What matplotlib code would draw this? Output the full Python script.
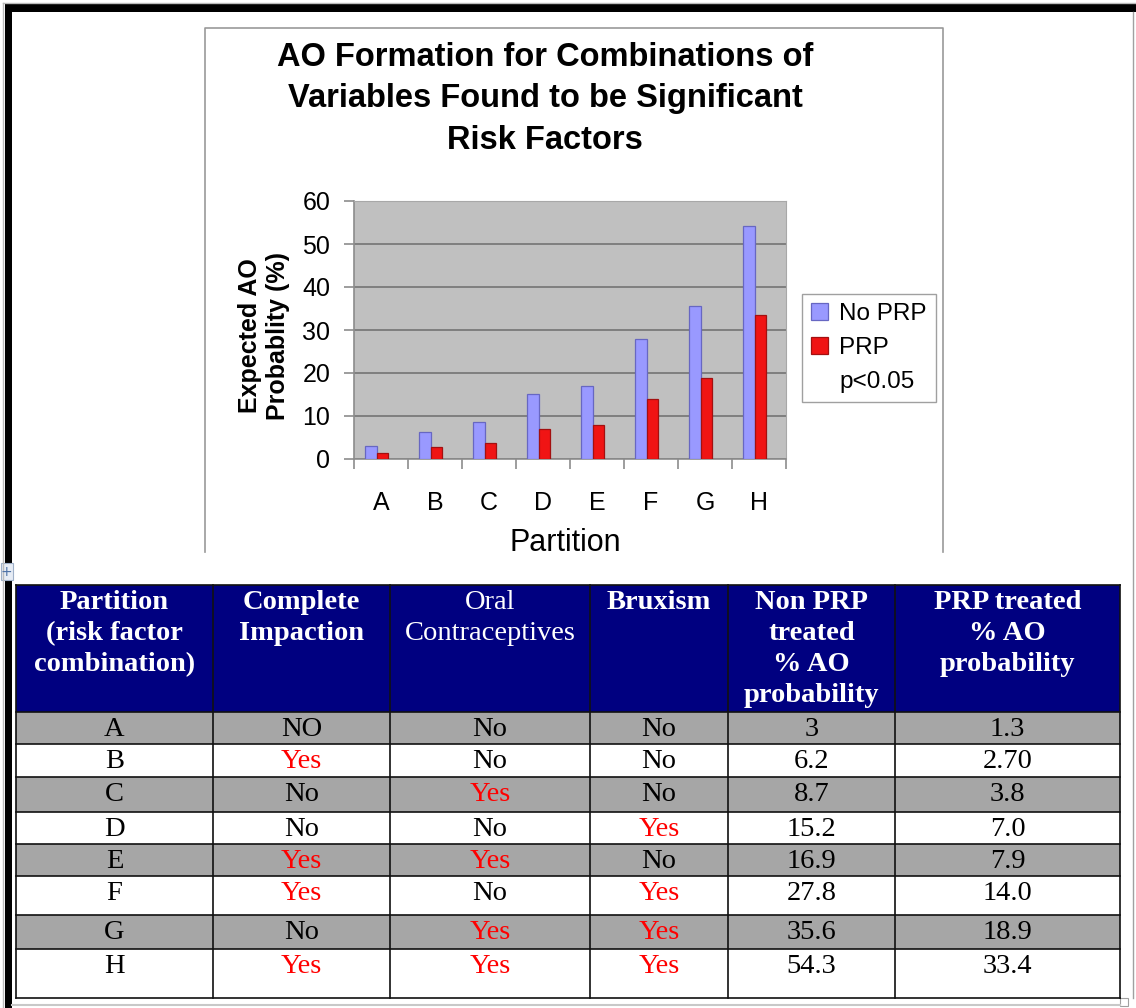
import numpy as np
import matplotlib
matplotlib.use("Agg")
import matplotlib.pyplot as plt
from matplotlib.patches import Rectangle, Patch
from matplotlib.lines import Line2D

# ---- data -------------------------------------------------------------
partitions = ["A", "B", "C", "D", "E", "F", "G", "H"]
complete_impaction = ["NO", "Yes", "No", "No", "Yes", "Yes", "No", "Yes"]
oral_contraceptives = ["No", "No", "Yes", "No", "Yes", "No", "Yes", "Yes"]
bruxism = ["No", "No", "No", "Yes", "No", "Yes", "Yes", "Yes"]
non_prp_labels = ["3", "6.2", "8.7", "15.2", "16.9", "27.8", "35.6", "54.3"]
prp_labels = ["1.3", "2.70", "3.8", "7.0", "7.9", "14.0", "18.9", "33.4"]
no_prp = [float(v) for v in non_prp_labels]
prp = [float(v) for v in prp_labels]

series_names = ["No PRP", "PRP"]
y_ticks = [0, 10, 20, 30, 40, 50, 60]

header_labels = [
    "Partition\n(risk factor\ncombination)",
    "Complete\nImpaction",
    "Oral\nContraceptives",
    "Bruxism",
    "Non PRP\ntreated\n% AO\nprobability",
    "PRP treated\n% AO\nprobability",
]
header_bold = [True, True, False, True, True, True]

# ---- figure -----------------------------------------------------------
W, H = 1136, 1008
fig = plt.figure(figsize=(W / 100, H / 100), dpi=100)
fig.patch.set_facecolor("white")

# full-page overlay in pixel coordinates (y grows downward)
pg = fig.add_axes([0, 0, 1, 1])
pg.set_xlim(0, W)
pg.set_ylim(H, 0)
pg.axis("off")

# page frame
pg.plot([3, W], [2.5, 2.5], color="#BBBBBB", lw=1)
pg.plot([3, 3], [2.5, H], color="#BBBBBB", lw=1)
pg.add_patch(Rectangle((5, 4), W - 5, 8, facecolor="black", edgecolor="none"))
pg.add_patch(Rectangle((5, 4), 7, H - 4, facecolor="black", edgecolor="none"))
pg.plot([1133, 1133], [12, 998], color="#A0A0A0", lw=1)
pg.plot([12, 1120], [1005, 1005], color="#C8C8C8", lw=1.5)
pg.add_patch(Rectangle((1120, 998), 8, 8, facecolor="white", edgecolor="#A0A0A0", lw=0.8))

# chart frame
pg.plot([205, 205, 943, 943], [552, 28, 28, 552], color="#999999", lw=1.2)

# ---- bar chart --------------------------------------------------------
left, top, right, bottom = 354, 201, 786, 459
ax = fig.add_axes([left / W, 1 - bottom / H, (right - left) / W, (bottom - top) / H])
ax.set_facecolor("#C0C0C0")
x = np.arange(len(partitions))
bw = 0.213
shift = -0.08
ax.bar(x + shift - bw / 2, no_prp, bw, color="#9999FF", edgecolor="#6767C2", lw=0.9, zorder=3)
ax.bar(x + shift + bw / 2, prp, bw, color="#F01414", edgecolor="#A31010", lw=0.9, zorder=3)
ax.set_xlim(-0.5, len(partitions) - 0.5)
ax.set_ylim(0, 60)
ax.set_yticks(y_ticks)
ax.yaxis.grid(True, color="#7A7A7A", lw=1.3, zorder=1)
ax.set_axisbelow(True)
for s in ["top", "right"]:
    ax.spines[s].set_color("#A8A8A8")
    ax.spines[s].set_linewidth(0.8)
ax.spines["left"].set_color("#8C8C8C")
ax.spines["bottom"].set_color("#8C8C8C")
ax.spines["left"].set_linewidth(1.2)
ax.spines["bottom"].set_linewidth(1.2)

ax.set_xticks(np.arange(-0.5, len(partitions), 1))
ax.set_xticklabels([])
ax.set_xticks(x, minor=True)
ax.set_xticklabels(partitions, minor=True, fontsize=18, family="Liberation Sans")
ax.tick_params(axis="x", which="major", length=7, width=1.2, color="#8C8C8C", direction="out")
ax.tick_params(axis="x", which="minor", length=0, pad=23)
ax.tick_params(axis="y", length=7, width=1.2, color="#8C8C8C", pad=10)
for lbl in ax.get_yticklabels():
    lbl.set_fontsize(18)
    lbl.set_family("Liberation Sans")

# titles and axis labels
fig.text(545 / W, 1 - 42 / H,
         "AO Formation for Combinations of\nVariables Found to be Significant\nRisk Factors",
         ha="center", va="top", fontsize=23.5, fontweight="bold",
         family="Liberation Sans", linespacing=1.43)
fig.text(264 / W, 1 - 336 / H, "Expected AO\nProbablity (%)", rotation=90,
         ha="center", va="center", fontsize=18, fontweight="bold",
         family="Liberation Sans", linespacing=1.25, multialignment="center")
fig.text(565 / W, 1 - 543 / H, "Partition", ha="center", va="center",
         fontsize=22, family="Liberation Sans")

# legend
handles = [
    Patch(facecolor="#9999FF", edgecolor="#6767C2", lw=0.9),
    Patch(facecolor="#F01414", edgecolor="#A31010", lw=0.9),
    Line2D([], [], alpha=0),
]
leg = ax.legend(handles, series_names + ["p<0.05"], loc="upper left",
                bbox_to_anchor=(802 / W, 1 - 294 / H), bbox_transform=fig.transFigure,
                frameon=True, fancybox=False, edgecolor="#A0A0A0", framealpha=1,
                borderaxespad=0, borderpad=0.38, handlelength=0.7, handleheight=0.7,
                handletextpad=0.45, labelspacing=0.48,
                prop={"family": "Liberation Sans", "size": 17.5})
leg.get_frame().set_linewidth(1.0)

# ---- table ------------------------------------------------------------
col_edges = [16, 213, 390, 590, 728, 895, 1120]
header_top, header_bottom = 585, 712
row_edges = [712, 744, 777, 812, 844, 876, 915, 949, 998]
navy = "#000080"
serif = "Liberation Serif"
fs = 20.5

pg.add_patch(Rectangle((col_edges[0], header_top), col_edges[-1] - col_edges[0],
                       header_bottom - header_top, facecolor=navy, edgecolor="none"))
for i in range(len(partitions)):
    y0, y1 = row_edges[i], row_edges[i + 1]
    fc = "#A6A6A6" if i % 2 == 0 else "white"
    pg.add_patch(Rectangle((col_edges[0], y0), col_edges[-1] - col_edges[0], y1 - y0,
                           facecolor=fc, edgecolor="none"))

# grid lines of the table
for xe in col_edges:
    pg.plot([xe, xe], [header_top, row_edges[-1]], color="#111111", lw=1.2)
for ye in [header_top] + row_edges:
    pg.plot([col_edges[0], col_edges[-1]], [ye, ye], color="#111111", lw=1.2)

# header text
for j, lab in enumerate(header_labels):
    cx = (col_edges[j] + col_edges[j + 1]) / 2
    pg.text(cx, 590, lab, ha="center", va="top", color="white", family=serif,
            fontsize=fs, fontweight="bold" if header_bold[j] else "normal",
            linespacing=1.32, multialignment="center")

# body text
columns = [partitions, complete_impaction, oral_contraceptives, bruxism,
           non_prp_labels, prp_labels]
for i in range(len(partitions)):
    cy = row_edges[i] + 17.5
    for j, col in enumerate(columns):
        val = col[i]
        cx = (col_edges[j] + col_edges[j + 1]) / 2
        pg.text(cx, cy, val, ha="center", va="center", family=serif, fontsize=fs,
                color="#FF0000" if val == "Yes" else "black")

# table move handle
pg.add_patch(Rectangle((0.5, 563), 12, 17, facecolor="#E6ECF5", edgecolor="#9FB0C8", lw=0.8))
pg.text(6.5, 571.5, "+", ha="center", va="center", fontsize=10, color="#4A6FA5",
        family="DejaVu Sans")

fig.savefig("out.png", dpi=100)
